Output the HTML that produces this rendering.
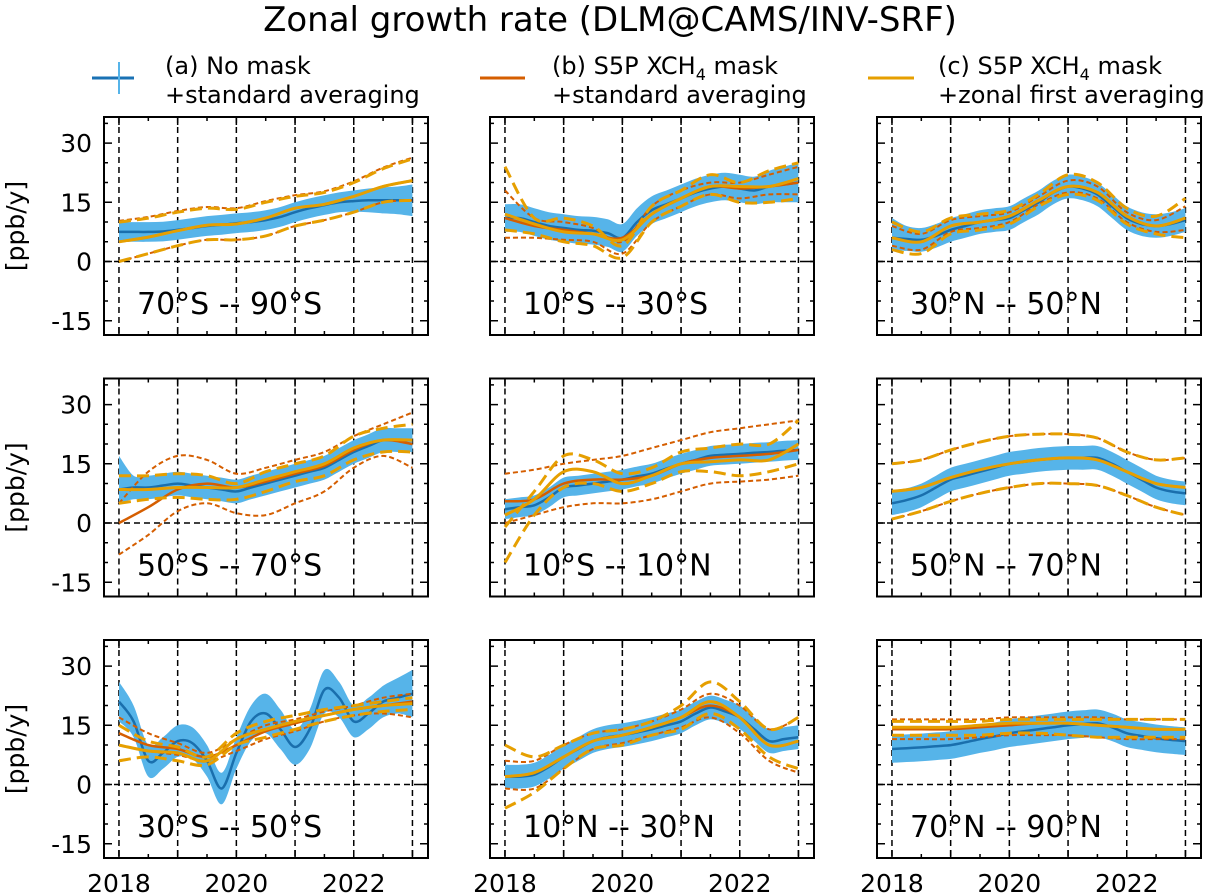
<!DOCTYPE html>
<html><head><meta charset="utf-8">
<style>
body{margin:0;background:#fff;}
svg{display:block;font-family:"DejaVu Sans","Liberation Sans",sans-serif;}
</style></head>
<body>
<svg id="fig" width="1211" height="894" viewBox="0 0 1211 894">
<text x="610" y="31" font-size="34" text-anchor="middle">Zonal growth rate (DLM@CAMS/INV-SRF)</text>
<g>
 <g>
  <line x1="92" y1="78" x2="134" y2="78" stroke="#1a72b4" stroke-width="3"/>
  <line x1="119" y1="62" x2="119" y2="94" stroke="#56B4E9" stroke-width="2"/>
  <text x="165" y="74" font-size="24">(a) No mask</text>
  <text x="165" y="103" font-size="24">+standard averaging</text>
 </g>
 <g>
  <line x1="480" y1="78" x2="525" y2="78" stroke="#D55E00" stroke-width="3"/>
  <text x="552" y="74" font-size="24">(b) S5P XCH<tspan font-size="16" dy="6">4</tspan><tspan dy="-6"> mask</tspan></text>
  <text x="552" y="103" font-size="24">+standard averaging</text>
 </g>
 <g>
  <line x1="868" y1="78" x2="914" y2="78" stroke="#E69F00" stroke-width="3"/>
  <text x="938" y="74" font-size="24">(c) S5P XCH<tspan font-size="16" dy="6">4</tspan><tspan dy="-6"> mask</tspan></text>
  <text x="938" y="103" font-size="24">+zonal first averaging</text>
 </g>
</g>
</svg>
<script>
const tFine=[2018,2018.25,2018.5,2018.75,2019,2019.25,2019.5,2019.75,2020,2020.25,2020.5,2020.75,2021,2021.25,2021.5,2021.75,2022,2022.25,2022.5,2022.75,2023];
const tCoarse=[2018,2018.5,2019,2019.5,2020,2020.5,2021,2021.5,2022,2022.5,2023];
const yTicks=[-15,0,15,30];
const xTickLabels=[2018,2020,2022];
const regionLabels=["70°S -- 90°S","10°S -- 30°S","30°N -- 50°N","50°S -- 70°S","10°S -- 10°N","50°N -- 70°N","30°S -- 50°S","10°N -- 30°N","70°N -- 90°N"];

// Panel A 70S-90S
const aBlue=[7.5,7.5,7.5,7.6,8,8.5,9,9.3,9.7,10,10.5,11.3,12.5,13.5,14.3,15,15.3,15.5,15.5,15.5,15.5];
const aBlueLo=[5,5,5,5.1,5.5,6,6.5,6.8,7.2,7.5,8,8.8,10,11,11.8,12.5,12.6,12.5,12.2,12,11.5];
const aBlueHi=[10,10,10,10.1,10.5,11,11.5,11.8,12.2,12.5,13,13.8,15,16,16.8,17.5,18,18.5,18.8,19,19.5];
const aB=[5,6.2,7.8,9.2,9.5,11,13.5,14.5,16.5,19,20.5];
const aBHi=[10.3,11.3,12.8,13.8,13.5,15.3,16.8,17.8,20.3,23.8,26.3];
const aBLo=[0,2,4,5.5,5.5,6.5,9,10.5,12.5,15,15.5];
const aC=[5,6.2,7.8,9.2,9.5,11,13.5,14.5,16.5,19,20.5];
const aCHi=[10,11,12.5,13.5,13.2,15,16.5,17.5,20,23.5,26];
const aCLo=[0,2,4,5.5,5.5,6.5,9,10.5,12.5,15,15.5];
// Panel B 10S-30S
const bBlue=[11,11,10,9,8.5,8,7.8,7.2,6,10,13,14.5,16,17.5,18.5,19,18.5,18,19,19.5,20];
const bBlueLo=[7.5,7.5,6.5,5.5,5,4.5,4.3,3.7,2.5,6.5,9.5,11,12.5,14,15,15.5,15,14.5,15,15,15];
const bBlueHi=[14.5,14.5,13.5,12.5,12,11.5,11.3,10.7,9.5,13.5,16.5,18,19.5,21,22,22.5,22,21.5,23,24,25];
const bB=[11,9,8,7,6,12,16,19,18.5,19,20];
const bBHi=[18,11,10,8.5,5,14,18,20,20,22,24];
const bBLo=[6,6,5.5,5,2,10,14,17,16,17,17];
const bC=[12,9.5,7.5,7,5.5,12,16,19,19,19,21];
const bCHi=[24,11,11,9,4,14,18,22,20,23,25];
const bCLo=[8,7,5,4,1,10,14,17,15,15,16];
// Panel C 30N-50N
const cBlue=[6,5.7,5.5,6.5,8,9,10,10.5,11,13,15,17.5,19,18.5,17,14,11,9.5,9,9.5,10.5];
const cBlueLo=[3,2.7,2.5,3.5,5,6,7,7.5,8,10,12,14.5,16,15.5,14,11,8,6.5,6,6.5,7.5];
const cBlueHi=[11,9,8.5,9.5,11,12,13,13.5,14,16,18,20.5,22,21.5,20,17,14,12.5,12,12.5,13.5];
const cB=[6,5,9,10,11.5,15.5,19,17.5,11.5,9,11];
const cBHi=[9,7,10.5,11.5,12.5,16.5,20.5,19,12.5,10.5,14];
const cBLo=[4,3,7.5,8.5,10,14.5,17.5,16,10,7.5,8];
const cC=[6,5,9,10,11.5,15.5,19,17.5,11.5,9,11];
const cCHi=[10,7.5,11,12,13,17,22,20,13.5,11.5,16];
const cCLo=[3,2,7,8,9.5,14,17,15.5,9.5,7,6];
// Panel D 50S-70S
const dBlue=[8.5,9,9,9.5,10,9.5,9,8.5,8,9,10,11,12,13,14,16,18,19.5,21,21,21];
const dBlueLo=[5,6,6,6.5,7,6.5,6,5.5,5,6,7,8,9,10,11,13,15,16.5,18,18,18];
const dBlueHi=[17,12,12,12.5,13,12.5,12,11.5,11,12,13,14,15,16,17,19,21,22.5,24,24,24];
const dB=[0,4,8.5,10,9,10.5,12.5,14.5,18.5,21,20];
const dBHi=[5,13,17,16,12.5,14,16,18,22,25,28];
const dBLo=[-8,-3,3,5,2.5,2,5,8,14,17,14];
const dC=[8.5,8.5,9,9,9,11,13,15,19,21,21];
const dCHi=[12,12,12.5,12,10,13,15,17,22,24,25];
const dCLo=[5,6,6.5,6,6,8,10.5,12,16,18,18];
// Panel E 10S-10N
const eBlue=[3.5,4,4.5,6.5,9,9.5,10,10.5,11,11.8,12.5,13.8,15,16,17,17.3,17.5,17.8,18,18.3,18.5];
const eBlueLo=[1,1.5,2,4,6.5,7,7.5,8,8.5,9.3,10,11.3,12.5,13.5,14.5,14.8,15,15.3,15.5,15.8,16];
const eBlueHi=[6,6.5,7,9,11.5,12,12.5,13,13.5,14.3,15,16.3,17.5,18.5,19.5,19.8,20,20.3,20.5,20.8,21];
const eB=[5.5,6,10,11,11,12,15,16.5,17,17.5,18.5];
const eBHi=[12.5,13.5,15,16,17,19,21,23,24,25,26];
const eBLo=[0,2,4,5,5,6,8,10,10.5,11,12];
const eC=[2,6,13,13,10,12,15,15.5,16,16,20];
const eCHi=[-1,8,17,16,12.5,14,18,19,20,20,26];
const eCLo=[-10,2,9,10,8,10,13,13,12,13,15];
// Panel F 50N-70N
const fBlue=[5,5.8,7,9,11,12,13,14,15,15.5,16,16.3,16.5,16.5,16.5,15,13,11,9,8,7.5];
const fBlueLo=[2,2.8,4,6,8,9,10,11,12,12.5,13,13.3,13.5,13.5,13.5,12,10,8,6,5,4.5];
const fBlueHi=[8,8.8,10,12,14,15,16,17,18,18.5,19,19.3,19.5,19.5,19.5,18,16,14,12,11,10.5];
const fB=[8,9,11.5,13.5,15,16,16.5,16,13,10,9];
const fBHi=[15,16,18.5,20.5,22,22.5,22.5,21.5,18,16,16.5];
const fBLo=[1,3,5.5,7.5,9,10,10,9.5,7,4,2];
const fC=[8,9,11.5,13.5,15,16,16.5,16,13,10,9];
const fCHi=[15,16,18.5,20.5,22,22.5,22.5,21.5,18,16,16.5];
const fCLo=[1,3,5.5,7.5,9,10,10,9.5,7,4,2];
// Panel G 30S-50S
const gBlue=[21,16,6,8,11,10.5,6,-1,8,16,18,14,9.5,14,24,22,16,18,21,22,23];
const gBlueLo=[16,12,2,4,7,6.5,2,-5,4,11,13,9,5,9,18,17,12,14,17,18,17];
const gBlueHi=[26,20,10,12,15,14.5,10,3,12,20,23,19,14,19,29,26,20,22,25,27,29];
const gB=[13,10,9,7,10,13.5,15.5,17.5,19,20,21];
const gBHi=[17,13,10.5,8,11.5,15,16.5,18.5,20,22,23];
const gBLo=[10,8.5,7.5,6,8.5,11.5,13.5,16,17.5,18,17];
const gC=[10,8.5,8,6,11.5,14,16,17.5,19,20,20.5];
const gCHi=[15,11,9.5,7,13,16,17.5,19,20,21,22];
const gCLo=[6,7,6,5,10,12,14,16,17.5,18.5,19];
// Panel H 10N-30N
const hBlue=[2,2,2.5,4.5,7,9,11,12,12.5,13.2,14,15,16,18,19.5,18.5,17,14,11,11.5,12];
const hBlueLo=[-1,-1,-0.5,1.5,4,6,8,9,9.5,10.2,11,12,13,15,16.5,15.5,14,11,8,8.5,9];
const hBlueHi=[5,5,5.5,7.5,10,12,14,15,15.5,16.2,17,18,19,21,22.5,21.5,20,17,14,14.5,15];
const hB=[2,3,7,11,12.5,14.5,17,20,17,10,11];
const hBHi=[6,6,10,13,14,16,19,23,20,14,17];
const hBLo=[-1,-1,4,9,10.5,12.5,14.5,17,13,6,3];
const hC=[2,3,7,11,12.5,14.5,17,21,17,10,11];
const hCHi=[10,7,10,13,14,16,20,26,21,14,17];
const hCLo=[-6,-2,4,9,10,12.5,14,18,14,7,4];
// Panel I 70N-90N
const iBlue=[9,9.2,9.4,9.7,10,10.7,11.5,12.2,13,13.5,14,14.5,15,15.3,15.5,14.5,13,12.3,11.7,11.3,11];
const iBlueLo=[5.5,5.7,5.9,6.2,6.5,7.2,8,8.7,9.5,10,10.5,11,11.5,11.8,12,11,9.5,8.8,8.2,7.8,7.5];
const iBlueHi=[12.5,12.7,12.9,13.2,13.5,14.2,15,15.7,16.5,17,17.5,18,18.5,18.8,19,18,16.5,15.8,15.2,14.8,14.5];
const iB=[14,14,14,14.5,15,15.5,15.5,15,14.5,14,14];
const iBHi=[16.5,16.5,16.5,16.5,17,17,17,17,16.5,16.5,16.5];
const iBLo=[11.5,11.5,11.5,12,12.5,12.5,12.5,12,11.5,11.5,11.5];
const iC=[14.5,14.5,14.5,15,15.5,15.5,15.5,15,14.5,14,14];
const iCHi=[16,16,16,16,16.5,16.5,16.5,16.5,16.5,16.5,16.5];
const iCLo=[12.5,12.5,12.5,12.5,13,13,12.5,12,12,12,12];

const panels=[
 [aBlue,aBlueLo,aBlueHi,aB,aBHi,aBLo,aC,aCHi,aCLo],
 [bBlue,bBlueLo,bBlueHi,bB,bBHi,bBLo,bC,bCHi,bCLo],
 [cBlue,cBlueLo,cBlueHi,cB,cBHi,cBLo,cC,cCHi,cCLo],
 [dBlue,dBlueLo,dBlueHi,dB,dBHi,dBLo,dC,dCHi,dCLo],
 [eBlue,eBlueLo,eBlueHi,eB,eBHi,eBLo,eC,eCHi,eCLo],
 [fBlue,fBlueLo,fBlueHi,fB,fBHi,fBLo,fC,fCHi,fCLo],
 [gBlue,gBlueLo,gBlueHi,gB,gBHi,gBLo,gC,gCHi,gCLo],
 [hBlue,hBlueLo,hBlueHi,hB,hBHi,hBLo,hC,hCHi,hCLo],
 [iBlue,iBlueLo,iBlueHi,iB,iBHi,iBLo,iC,iCHi,iCLo]
];

const NS="http://www.w3.org/2000/svg";
const svg=document.getElementById('fig');
const colX=[104,490,877], rowY=[117,378.5,640];
const PW=324, PH=218;
const X0=2017.745, X1=2023.265, Y0=-18.6, Y1=36.6;
function mk(tag,attrs,parent){const e=document.createElementNS(NS,tag);for(const k in attrs)e.setAttribute(k,attrs[k]);parent.appendChild(e);return e;}
function smooth(pts){
 let d="M"+pts[0][0].toFixed(1)+","+pts[0][1].toFixed(1);
 for(let i=0;i<pts.length-1;i++){
  const p0=pts[Math.max(0,i-1)],p1=pts[i],p2=pts[i+1],p3=pts[Math.min(pts.length-1,i+2)];
  const c1=[p1[0]+(p2[0]-p0[0])/6,p1[1]+(p2[1]-p0[1])/6];
  const c2=[p2[0]-(p3[0]-p1[0])/6,p2[1]-(p3[1]-p1[1])/6];
  d+="C"+c1[0].toFixed(1)+","+c1[1].toFixed(1)+" "+c2[0].toFixed(1)+","+c2[1].toFixed(1)+" "+p2[0].toFixed(1)+","+p2[1].toFixed(1);
 }
 return d;
}
panels.forEach((p,k)=>{
 const col=k%3,row=Math.floor(k/3);
 const L=colX[col],T=rowY[row];
 const xs=v=>L+(v-X0)/(X1-X0)*PW;
 const ys=v=>T+(Y1-v)/(Y1-Y0)*PH;
 const g=mk('g',{},svg);
 
 
 const cid='clip'+k;
 const cp=mk('clipPath',{id:cid},g);
 mk('rect',{x:L,y:T,width:PW,height:PH},cp);
 const plot=mk('g',{'clip-path':'url(#'+cid+')'},g);
 for(let yr=2018;yr<=2023;yr++){
  const gl=mk('line',{x1:xs(yr),x2:xs(yr),y1:T,y2:T+PH,stroke:'#000','stroke-width':1.5,'stroke-dasharray':'6,4'},plot);
  
  
 }
 const zl=mk('line',{x1:L,x2:L+PW,y1:ys(0),y2:ys(0),stroke:'#000','stroke-width':1.5,'stroke-dasharray':'6,4'},plot);
 
 
 const [bl,lo,hi,b,bh,bL,c,ch,cl]=p;
 const top=tFine.map((t,i)=>[xs(t),ys(hi[i])]);
 const bot=tFine.map((t,i)=>[xs(t),ys(lo[i])]).reverse();
 const band=mk('path',{d:smooth(top)+"L"+smooth(bot).slice(1)+"Z",fill:'#56B4E9',stroke:'none'},plot);
 
 
 const lineA=mk('path',{d:smooth(tFine.map((t,i)=>[xs(t),ys(bl[i])])),fill:'none',stroke:'#1a6fad','stroke-width':2.5},plot);
 
 
 const draw=(arr,color,dash,w,name)=>{
  const e=mk('path',{d:smooth(tCoarse.map((t,i)=>[xs(t),ys(arr[i])])),fill:'none',stroke:color,'stroke-width':w},plot);
  if(dash)e.setAttribute('stroke-dasharray',dash);
  
  
 };
 draw(bh,'#D55E00','5,3',2,'series-b-upper');
 draw(bL,'#D55E00','5,3',2,'series-b-lower');
 draw(b,'#D55E00',null,2.5,'series-b-line');
 draw(ch,'#E69F00','12,6',3,'series-c-upper');
 draw(cl,'#E69F00','12,6',3,'series-c-lower');
 draw(c,'#E69F00',null,3,'series-c-line');
 const fr=mk('rect',{x:L,y:T,width:PW,height:PH,fill:'none',stroke:'#000','stroke-width':2},g);
 
 
 let td="";
 for(let v=-15;v<=35;v+=5){const y=ys(v);const len=(v%15===0)?8:4;td+=`M${L},${y}h${len}M${L+PW},${y}h${-len}`;}
 for(let yr=2018;yr<=2023;yr+=0.5){const x=xs(yr);const len=(yr%1===0)?8:4;td+=`M${x},${T}v${len}M${x},${T+PH}v${-len}`;}
 const tk=mk('path',{d:td,stroke:'#000','stroke-width':1.5,fill:'none'},g);
 
 
 const rl=mk('text',{x:L+33,y:T+197,'font-size':30},g);
 rl.textContent=regionLabels[k];
 
 
 if(col===0){
  yTicks.forEach(v=>{
   const t=mk('text',{x:L-12,y:ys(v)+9,'font-size':25,'text-anchor':'end'},g);
   t.textContent=v;
   
   
  });
  const yl=mk('text',{x:24,y:T+PH/2,'font-size':25,'text-anchor':'middle',transform:`rotate(-90 24 ${T+PH/2})`},g);
  yl.textContent='[ppb/y]';
  
  
 }
 if(row===2){
  xTickLabels.forEach(v=>{
   const t=mk('text',{x:xs(v),y:T+PH+34,'font-size':25,'text-anchor':'middle'},g);
   t.textContent=v;
   
   
  });
 }
});
</script>
</body></html>
